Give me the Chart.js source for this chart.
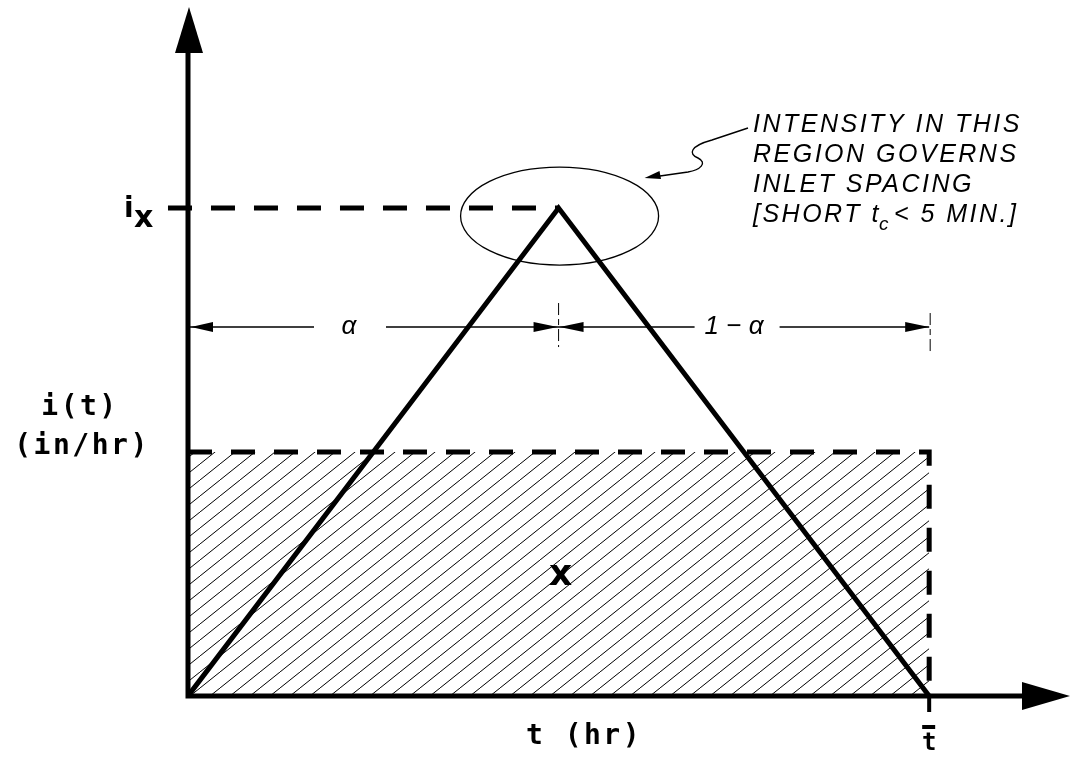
<!DOCTYPE html>
<html>
<head>
<meta charset="utf-8">
<script src="https://cdn.jsdelivr.net/npm/chart.js@4.4.1/dist/chart.umd.min.js"></script>
<style>
  html, body { margin: 0; padding: 0; background: #fff; }
  #wrap { width: 1071px; height: 761px; }
</style>
</head>
<body>
<div id="wrap"><canvas id="chart"></canvas></div>
<script>
// time as fraction of storm duration t-bar, intensity as fraction of peak i_x
const triangleTimes = [0, 0.5, 1];
const triangleIntensity = [0, 1, 0];
const avgTimes = [0, 1, 1];
const avgIntensity = [0.5, 0.5, 0];
const peakTimes = [-0.027, 0.5];
const peakIntensity = [1, 1];
const alphaSplit = 0.5;

const xMax = 1.19;
const yMax = 1.412;

const toPoints = (xs, ys) => xs.map((x, i) => ({ x: x, y: ys[i] }));

// diagonal hatch like the drafting pattern
function makeHatch() {
    const w = 20, h = 16;
    const c = document.createElement('canvas');
    c.width = w; c.height = h;
    const g = c.getContext('2d');
    g.strokeStyle = '#000';
    g.lineWidth = 1;
    [-w, 0, w].forEach(off => {
        g.beginPath();
        g.moveTo(off, h);
        g.lineTo(off + w, 0);
        g.stroke();
    });
    return c;
}

const ctxMain = document.getElementById('chart').getContext('2d');
const hatch = ctxMain.createPattern(makeHatch(), 'repeat');

function arrowHead(ctx, tipX, tipY, dirX, dirY, len, half) {
    const px = -dirY, py = dirX;
    const bx = tipX - dirX * len, by = tipY - dirY * len;
    ctx.beginPath();
    ctx.moveTo(tipX, tipY);
    ctx.lineTo(bx + px * half, by + py * half);
    ctx.lineTo(bx - px * half, by - py * half);
    ctx.closePath();
    ctx.fill();
}

function textSpaced(ctx, str, x, y, spacing) {
    ctx.letterSpacing = spacing + 'px';
    ctx.fillText(str, x, y);
    ctx.letterSpacing = '0px';
}

const diagramPlugin = {
    id: 'diagram',
    afterDatasetsDraw(chart) {
        const ctx = chart.ctx;
        const xs = chart.scales.x, ys = chart.scales.y;
        const x0 = xs.getPixelForValue(0);
        const xa = xs.getPixelForValue(alphaSplit);
        const xt = xs.getPixelForValue(1);
        const y0 = ys.getPixelForValue(0);
        const yPeak = ys.getPixelForValue(1);
        const area = chart.chartArea;

        ctx.save();
        ctx.fillStyle = '#000';
        ctx.strokeStyle = '#000';

        // axes
        ctx.lineWidth = 5;
        ctx.lineCap = 'square';
        ctx.beginPath();
        ctx.moveTo(x0, y0);
        ctx.lineTo(x0, area.top + 40);
        ctx.moveTo(x0, y0);
        ctx.lineTo(area.right - 40, y0);
        ctx.stroke();
        arrowHead(ctx, x0 + 1, area.top, 0, -1, 46, 14);
        arrowHead(ctx, area.right, y0, 1, 0, 48, 14);

        // t-bar tick below axis
        ctx.lineWidth = 4;
        ctx.lineCap = 'butt';
        ctx.beginPath();
        ctx.moveTo(xt, y0);
        ctx.lineTo(xt, y0 + 16);
        ctx.stroke();

        // ellipse around the peak
        ctx.lineWidth = 1.3;
        ctx.beginPath();
        ctx.ellipse(xa + 1, yPeak + 8, 99, 49, 0, 0, Math.PI * 2);
        ctx.stroke();

        // leader from the note to the ellipse
        ctx.lineWidth = 1.4;
        ctx.beginPath();
        ctx.moveTo(748, 128);
        ctx.lineTo(712, 140);
        ctx.bezierCurveTo(690, 146, 688, 154, 698, 158);
        ctx.bezierCurveTo(708, 163, 700, 170, 688, 172);
        ctx.lineTo(660, 176);
        ctx.stroke();
        arrowHead(ctx, xa + 86, yPeak - 30, -0.98, 0.19, 16, 4);

        // dimension line alpha / 1 - alpha
        const yd = yPeak + 119;
        ctx.lineWidth = 1.4;
        ctx.beginPath();
        ctx.moveTo(x0 + 2, yd); ctx.lineTo(x0 + 126, yd);
        ctx.moveTo(x0 + 198, yd); ctx.lineTo(xa, yd);
        ctx.moveTo(xa, yd); ctx.lineTo(xa + 136, yd);
        ctx.moveTo(xa + 221, yd); ctx.lineTo(xt, yd);
        ctx.stroke();
        arrowHead(ctx, x0 + 3, yd, -1, 0, 22, 5);
        arrowHead(ctx, xa - 1, yd, 1, 0, 24, 5);
        arrowHead(ctx, xa + 1, yd, -1, 0, 24, 5);
        arrowHead(ctx, xt, yd, 1, 0, 24, 5);

        // extension ticks
        ctx.lineWidth = 1;
        ctx.setLineDash([12, 4, 6, 4]);
        ctx.beginPath();
        ctx.moveTo(xa, yd - 24); ctx.lineTo(xa, yd + 20);
        ctx.moveTo(xt + 1, yd - 14); ctx.lineTo(xt + 1, yd + 26);
        ctx.stroke();
        ctx.setLineDash([]);

        ctx.font = 'italic 26px "Liberation Sans"';
        ctx.textAlign = 'center';
        ctx.textBaseline = 'alphabetic';
        ctx.fillText('\u03b1', x0 + 161, yd + 7);
        ctx.textAlign = 'left';
        ctx.fillText('1 \u2212 \u03b1', xa + 146, yd + 7);

        // note text
        const nx = 753;
        ctx.font = 'italic 25px "Liberation Sans"';
        textSpaced(ctx, 'INTENSITY IN THIS', nx, 132, 2.5);
        textSpaced(ctx, 'REGION GOVERNS', nx, 162, 2.5);
        textSpaced(ctx, 'INLET SPACING', nx, 192, 2.5);
        ctx.letterSpacing = '2.5px';
        let cx = nx;
        const part1 = '[SHORT ';
        ctx.fillText(part1, cx, 222);
        cx += ctx.measureText(part1).width;
        ctx.fillText('t', cx, 222);
        cx += ctx.measureText('t').width;
        ctx.font = 'italic 19px "Liberation Sans"';
        ctx.fillText('c', cx - 2, 230);
        cx += ctx.measureText('c').width;
        ctx.font = 'italic 25px "Liberation Sans"';
        ctx.fillText('< 5 MIN.]', cx + 1, 222);
        ctx.letterSpacing = '0px';

        // axis labels
        ctx.font = 'bold 28px "DejaVu Sans Mono"';
        ctx.textAlign = 'center';
        textSpaced(ctx, 'i(t)', 80, 415, 2.5);
        textSpaced(ctx, '(in/hr)', 82, 454, 2.5);
        textSpaced(ctx, 't (hr)', 584, 744, 2.5);

        // i_x label
        ctx.textAlign = 'left';
        ctx.font = 'bold 28px "DejaVu Sans"';
        ctx.fillText('i', x0 - 64, yPeak + 9);
        ctx.font = 'bold 30px "DejaVu Sans"';
        ctx.fillText('x', x0 - 54, yPeak + 19);

        // t-bar label
        ctx.font = 'bold 24px "DejaVu Sans Mono"';
        ctx.textAlign = 'center';
        ctx.fillText('t', xt, y0 + 54);
        ctx.fillRect(xt - 7, y0 + 29, 13, 4);

        // X in the hatched area
        ctx.font = 'bold 36px "DejaVu Sans"';
        ctx.fillText('x', xa + 2, 585);

        ctx.restore();
    }
};

new Chart(ctxMain, {
    type: 'line',
    data: {
        datasets: [
            {
                data: toPoints(triangleTimes, triangleIntensity),
                borderColor: '#000',
                borderWidth: 5,
                borderJoinStyle: 'miter',
                pointRadius: 0,
                fill: false,
                tension: 0,
                order: 0
            },
            {
                data: toPoints(peakTimes, peakIntensity),
                borderColor: '#000',
                borderWidth: 5,
                borderDash: [24, 19],
                pointRadius: 0,
                fill: false,
                clip: false,
                order: 1
            },
            {
                data: toPoints(avgTimes, avgIntensity),
                borderColor: '#000',
                borderWidth: 5,
                borderDash: [24, 19],
                pointRadius: 0,
                fill: false,
                order: 1
            },
            {
                data: toPoints(avgTimes.slice(0, 2), avgIntensity.slice(0, 2)),
                borderWidth: 0,
                backgroundColor: hatch,
                pointRadius: 0,
                fill: 'origin',
                order: 2
            }
        ]
    },
    options: {
        responsive: true,
        maintainAspectRatio: false,
        animation: false,
        layout: { padding: { left: 188, right: 1, top: 7, bottom: 65 } },
        scales: {
            x: { type: 'linear', min: 0, max: xMax, display: false },
            y: { type: 'linear', min: 0, max: yMax, display: false }
        },
        plugins: {
            legend: { display: false },
            tooltip: { enabled: false }
        }
    },
    plugins: [diagramPlugin]
});
</script>
</body>
</html>
